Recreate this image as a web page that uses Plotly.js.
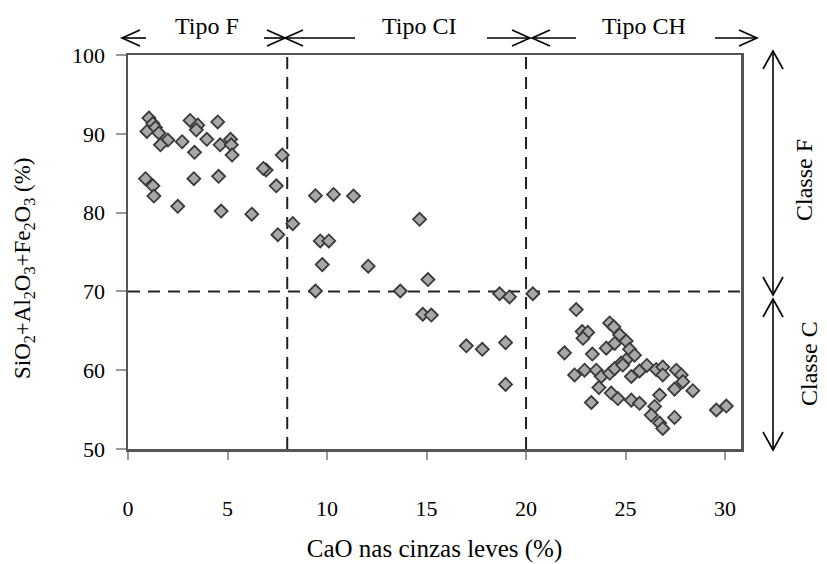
<!DOCTYPE html>
<html>
<head>
<meta charset="utf-8">
<script src="https://cdn.plot.ly/plotly-3.0.1.min.js"></script>
<style>html,body{margin:0;padding:0;background:#fff;}#chart{width:827px;height:564px;}</style>
</head>
<body>
<div id="chart"></div>
<script>
// CaO in fly ash (%) and SiO2+Al2O3+Fe2O3 (%)
const cao = [
  1.05,1.25,0.95,1.38,1.55,2.0,1.63,2.72,3.12,3.51,3.43,3.34,3.96,4.51,4.63,5.15,5.19,5.23,7.75,6.94,6.8,7.45,0.88,1.25,1.30,3.31,4.55,2.5,4.68,6.22,8.28,7.53,
  9.42,10.33,11.33,14.65,9.66,10.09,9.76,12.07,15.07,9.42,13.68,18.67,19.17,20.34,14.81,15.24,17.0,17.8,18.97,18.97,
  22.52,24.2,24.41,22.82,23.1,22.86,24.7,25.03,21.93,23.33,24.03,24.45,25.2,25.45,25.03,24.78,22.44,22.94,
  23.53,23.78,24.2,24.45,24.86,25.29,25.7,26.07,26.54,26.87,26.87,27.55,27.8,27.88,27.46,28.38,26.71,23.66,23.28,
  24.28,24.61,25.29,25.7,26.46,26.29,26.71,26.87,27.46,29.56,30.06
];
const oxides = [
  92.0,91.3,90.3,90.8,90.1,89.2,88.6,89.0,91.7,91.1,90.5,87.65,89.3,91.5,88.6,89.3,88.6,87.3,87.3,85.4,85.6,83.4,84.3,83.4,82.1,84.3,84.6,80.8,80.2,79.8,78.6,77.2,
  82.15,82.3,82.1,79.15,76.4,76.4,73.4,73.2,71.5,70.05,70.05,69.7,69.3,69.7,67.1,67.0,63.1,62.65,63.5,58.2,
  67.7,66.0,65.5,64.9,64.8,64.05,64.5,63.7,62.2,62.05,62.8,63.4,62.65,61.9,61.3,60.9,59.4,60.0,
  60.0,59.2,59.6,60.2,60.65,59.2,59.9,60.6,60.1,60.4,59.4,60.0,59.4,58.55,57.6,57.4,56.85,57.8,55.9,
  57.1,56.4,56.2,55.8,55.4,54.3,53.3,52.6,54.0,54.95,55.45
];
const xTicks = [0,5,10,15,20,25,30];
const yTicks = [50,60,70,80,90,100];
const typeLimits = [8,20];
const classLimit = 70;
const typeLabels = ['Tipo F','Tipo CI','Tipo CH'];
const classLabels = ['Classe F','Classe C'];
const xTitle = 'CaO nas cinzas leves (%)';
const yTitle = 'SiO<sub>2</sub>+Al<sub>2</sub>O<sub>3</sub>+Fe<sub>2</sub>O<sub>3</sub> (%)';

const W=827,H=564,L=128,R=86,T=55,B=115;
const pw=W-L-R, ph=H-T-B;
const px=x=>(x-L)/pw, py=y=>(H-B-y)/ph;
const FONT='"Liberation Serif","Times New Roman",serif';

function hArrow(x1,x2,y,headAt){
  const s=[];
  s.push({type:'line',xref:'paper',yref:'paper',x0:px(x1),x1:px(x2),y0:py(y),y1:py(y),line:{color:'#000',width:1.6}});
  const hl=18,hw=8;
  if(headAt==='right'){
    s.push({type:'path',xref:'paper',yref:'paper',path:`M${px(x2-hl)},${py(y-hw)} L${px(x2)},${py(y)} L${px(x2-hl)},${py(y+hw)}`,line:{color:'#000',width:1.6}});
  } else if(headAt==='left'){
    s.push({type:'path',xref:'paper',yref:'paper',path:`M${px(x1+hl)},${py(y-hw)} L${px(x1)},${py(y)} L${px(x1+hl)},${py(y+hw)}`,line:{color:'#000',width:1.6}});
  }
  return s;
}
function vArrow(x,y1,y2){
  const hl=18,hw=10,s=[];
  s.push({type:'line',xref:'paper',yref:'paper',x0:px(x),x1:px(x),y0:py(y1),y1:py(y2),line:{color:'#000',width:1.6}});
  s.push({type:'path',xref:'paper',yref:'paper',path:`M${px(x-hw)},${py(y1+hl)} L${px(x)},${py(y1)} L${px(x+hw)},${py(y1+hl)}`,line:{color:'#000',width:1.6}});
  s.push({type:'path',xref:'paper',yref:'paper',path:`M${px(x-hw)},${py(y2-hl)} L${px(x)},${py(y2)} L${px(x+hw)},${py(y2-hl)}`,line:{color:'#000',width:1.6}});
  return s;
}

const shapes = [];
typeLimits.forEach(v=>shapes.push({type:'line',xref:'x',yref:'paper',x0:v,x1:v,y0:0,y1:1,layer:'below',line:{color:'#222',width:2,dash:'12px,8px'}}));
shapes.push({type:'line',xref:'paper',yref:'y',x0:0,x1:1,y0:classLimit,y1:classLimit,layer:'below',line:{color:'#222',width:2,dash:'12px,8px'}});
const AY=38;
shapes.push(...hArrow(122,146,AY,'left'));
shapes.push(...hArrow(264,285,AY,'right'));
shapes.push(...hArrow(285,355,AY,'left'));
shapes.push(...hArrow(487,530,AY,'right'));
shapes.push(...hArrow(532,576,AY,'left'));
shapes.push(...hArrow(715,757,AY,'right'));
shapes.push(...vArrow(773,51,295));
shapes.push(...vArrow(773,299,450));

const base = {xref:'paper',yref:'paper',showarrow:false,xanchor:'center',yanchor:'middle'};
const annotations = [
  Object.assign({text:typeLabels[0],x:px(207),y:py(26),font:{family:FONT,size:24,color:'#000'}},base),
  Object.assign({text:typeLabels[1],x:px(419),y:py(26),font:{family:FONT,size:24,color:'#000'}},base),
  Object.assign({text:typeLabels[2],x:px(644),y:py(26),font:{family:FONT,size:24,color:'#000'}},base),
  Object.assign({text:classLabels[0],x:px(804),y:py(180),textangle:-90,font:{family:FONT,size:24,color:'#000'}},base),
  Object.assign({text:classLabels[1],x:px(809),y:py(364),textangle:-90,font:{family:FONT,size:24,color:'#000'}},base),
  Object.assign({text:yTitle,x:px(24),y:py(268),textangle:-90,font:{family:FONT,size:23,color:'#000'}},base)
];

const trace = {
  x:cao, y:oxides, type:'scatter', mode:'markers',
  marker:{symbol:'diamond',size:10,color:'#a8a8a8',line:{color:'#3a3a3a',width:1.8}},
  cliponaxis:false, hoverinfo:'x+y'
};

const layout = {
  width:W,height:H,
  margin:{l:L,r:R,t:T,b:B,pad:0},
  paper_bgcolor:'#fff',plot_bgcolor:'#fff',
  showlegend:false,
  font:{family:FONT,size:22,color:'#000'},
  xaxis:{range:[0,30.8],tickvals:xTicks,ticktext:xTicks.map(String),ticks:'outside',ticklen:8,tickwidth:2,tickcolor:'#999',
    showline:true,mirror:true,linecolor:'#555',linewidth:2.5,showgrid:false,zeroline:false,ticklabelstandoff:30,
    tickfont:{family:FONT,size:22,color:'#000'},
    title:{text:xTitle,font:{family:FONT,size:25,color:'#000'},standoff:20}},
  yaxis:{range:[50,100],tickvals:yTicks,ticks:'outside',ticklen:10,tickwidth:2,tickcolor:'#999',
    showline:true,mirror:true,linecolor:'#555',linewidth:2.5,showgrid:false,zeroline:false,ticklabelstandoff:6,
    tickfont:{family:FONT,size:22,color:'#000'}},
  shapes:shapes,
  annotations:annotations
};
Plotly.newPlot('chart',[trace],layout,{displayModeBar:false,staticPlot:true});
</script>
</body>
</html>
